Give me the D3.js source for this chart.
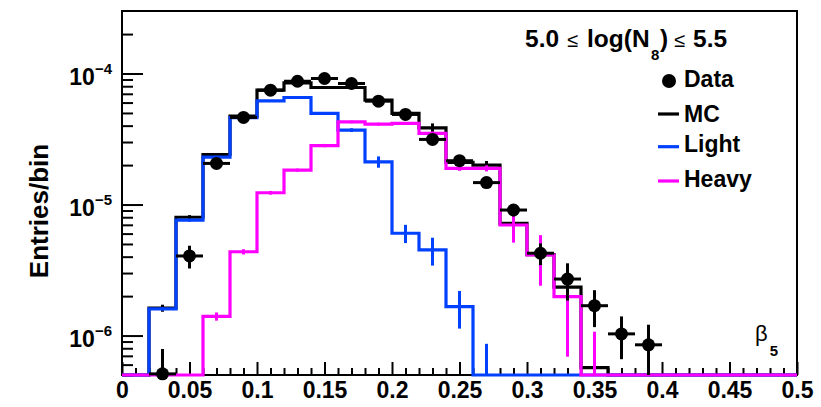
<!DOCTYPE html>
<html>
<head>
<meta charset="utf-8">
<script src="https://cdn.jsdelivr.net/npm/d3@7"></script>
<style>
  html, body { margin: 0; padding: 0; background: #fff; }
  svg { display: block; }
  text { font-family: "Liberation Sans", Arial, Helvetica, sans-serif; }
</style>
</head>
<body>
<div id="chart"></div>
<script>
// ---------------- data ----------------
const binEdgesLow = [0.00,0.02,0.04,0.06,0.08,0.10,0.12,0.14,0.16,0.18,0.20,0.22,0.24,0.26,0.28,0.30,0.32,0.34,0.36,0.38,0.40,0.42,0.44,0.46,0.48];
const binCenters  = [0.01,0.03,0.05,0.07,0.09,0.11,0.13,0.15,0.17,0.19,0.21,0.23,0.25,0.27,0.29,0.31,0.33,0.35,0.37,0.39,0.41,0.43,0.45,0.47,0.49];

const mcValues    = [0, 1.62e-6, 8.0e-6, 2.41e-5, 4.73e-5, 7.46e-5, 8.48e-5, 7.82e-5, 7.82e-5, 6.26e-5, 4.96e-5, 3.85e-5, 2.1e-5, 2.0e-5, 7.18e-6, 4.15e-6, 2.34e-6, 5.7e-7, 0, 0, 0, 0, 0, 0, 0];
const mcErrors    = [0, 0.1e-6, 0.3e-6, 0.6e-6, 0.9e-6, 1.2e-6, 1.3e-6, 1.3e-6, 1.4e-6, 1.6e-6, 2.2e-6, 3.1e-6, 1.5e-6, 1.5e-6, 1.2e-6, 1.2e-6, 1.2e-6, 0.3e-6, 0, 0, 0, 0, 0, 0, 0];

const lightValues = [0, 1.60e-6, 7.6e-6, 2.3e-5, 4.6e-5, 6.18e-5, 6.56e-5, 4.96e-5, 3.70e-5, 2.12e-5, 6.04e-6, 4.5e-6, 1.66e-6, 3e-7, 0, 0, 0, 0, 0, 0, 0, 0, 0, 0, 0];
const lightErrors = [0, 0.05e-6, 0.2e-6, 0.4e-6, 0.6e-6, 0.8e-6, 0.8e-6, 0.8e-6, 1.2e-6, 2.1e-6, 0.96e-6, 1.08e-6, 0.53e-6, 5.65e-7, 0, 0, 0, 0, 0, 0, 0, 0, 0, 0, 0];

const heavyValues = [0, 0, 0, 1.40e-6, 4.36e-6, 1.23e-5, 1.83e-5, 2.82e-5, 4.27e-5, 4.11e-5, 4.16e-5, 3.49e-5, 1.89e-5, 1.89e-5, 6.98e-6, 4.12e-6, 1.98e-6, 4e-7, 0, 0, 0, 0, 0, 0, 0];
const heavyErrors = [0, 0, 0, 0.1e-6, 0.2e-6, 0.4e-6, 0.5e-6, 0.8e-6, 1.0e-6, 1.0e-6, 1.0e-6, 1.1e-6, 0.8e-6, 1.0e-6, 1.86e-6, 1.72e-6, 1.29e-6, 6.7e-7, 0, 0, 0, 0, 0, 0, 0];

const dataX       = [0.03,0.05,0.07,0.09,0.11,0.13,0.15,0.17,0.19,0.21,0.23,0.25,0.27,0.29,0.31,0.33,0.35,0.37,0.39];
const dataValues  = [5.1e-7, 4.05e-6, 2.06e-5, 4.62e-5, 7.46e-5, 8.73e-5, 9.16e-5, 8.39e-5, 6.15e-5, 4.87e-5, 3.14e-5, 2.16e-5, 1.47e-5, 9.08e-6, 4.25e-6, 2.70e-6, 1.69e-6, 1.03e-6, 8.5e-7];
const dataErrors  = [2.8e-7, 0.8e-6, 1.5e-6, 2.0e-6, 2.5e-6, 2.7e-6, 2.8e-6, 2.7e-6, 2.3e-6, 2.1e-6, 1.7e-6, 1.4e-6, 1.2e-6, 0.95e-6, 0.8e-6, 0.85e-6, 0.53e-6, 0.37e-6, 0.36e-6];

const xTickValues = [0, 0.05, 0.1, 0.15, 0.2, 0.25, 0.3, 0.35, 0.4, 0.45, 0.5];
const xTickLabels = ["0", "0.05", "0.1", "0.15", "0.2", "0.25", "0.3", "0.35", "0.4", "0.45", "0.5"];
const yTickValues = [1e-6, 1e-5, 1e-4];
const yTickExponents = ["\u22126", "\u22125", "\u22124"];

const seriesNames  = ["Data", "MC", "Light", "Heavy"];
const seriesColors = { MC: "#000000", Light: "#0040ff", Heavy: "#ff00ff", Data: "#000000" };

// ---------------- layout ----------------
const W = 821, H = 407;
const mLeft = 122, mRight = 797, mTop = 11, mBottom = 375;
const binWidth = 0.02;
const yMin = 5e-7, yMax = 3e-4;

const svg = d3.select("#chart").append("svg").attr("width", W).attr("height", H);

const x = d3.scaleLinear().domain([0, 0.5]).range([mLeft, mRight]);
const y = d3.scaleLog().domain([yMin, yMax]).range([mBottom, mTop]);
const yc = v => y(Math.min(Math.max(v, yMin), yMax));

// ---------------- axes ----------------
const xMinor = d3.range(0, 0.5001, 0.01).filter(v => xTickValues.every(t => Math.abs(t - v) > 1e-6));
svg.append("g").attr("transform", `translate(0,${mBottom})`)
  .call(d3.axisBottom(x).tickValues(xMinor).tickSize(-7).tickFormat(""))
  .call(g => g.select(".domain").remove())
  .call(g => g.selectAll("line").attr("stroke-width", 2));

svg.append("g").attr("transform", `translate(0,${mBottom})`)
  .call(d3.axisBottom(x).tickValues(xTickValues).tickSize(-13).tickPadding(7)
        .tickFormat((d, i) => xTickLabels[i]))
  .call(g => g.select(".domain").remove())
  .call(g => g.selectAll("line").attr("stroke-width", 2))
  .call(g => g.selectAll("text").attr("font-size", 23).attr("font-weight", "bold")
        .attr("fill", "#000").attr("font-family", "Liberation Sans, Arial, sans-serif"));

const yMinor = [];
[1e-7, 1e-6, 1e-5, 1e-4].forEach(dec => { for (let k = 2; k <= 9; k++) { const v = k * dec; if (v >= yMin && v <= yMax) yMinor.push(v); } });
svg.append("g").attr("transform", `translate(${mLeft},0)`)
  .call(d3.axisLeft(y).tickValues(yMinor).tickSize(-11).tickFormat(""))
  .call(g => g.select(".domain").remove())
  .call(g => g.selectAll("line").attr("stroke-width", 2));
svg.append("g").attr("transform", `translate(${mLeft},0)`)
  .call(d3.axisLeft(y).tickValues(yTickValues).tickSize(-21).tickFormat(""))
  .call(g => g.select(".domain").remove())
  .call(g => g.selectAll("line").attr("stroke-width", 2));

const yLab = svg.append("g").selectAll("text").data(yTickValues).join("text")
  .attr("x", 112).attr("y", d => y(d) + 11.5)
  .attr("text-anchor", "end").attr("font-weight", "bold").attr("font-size", 23);
yLab.append("tspan").text("10");
yLab.append("tspan").attr("font-size", 15).attr("dy", -11).text((d, i) => yTickExponents[i]);

// frame
svg.append("rect").attr("x", mLeft).attr("y", mTop).attr("width", mRight - mLeft).attr("height", mBottom - mTop)
  .attr("fill", "none").attr("stroke", "#000").attr("stroke-width", 2);

// axis titles
svg.append("text").attr("transform", `translate(48,211) rotate(-90)`)
  .attr("text-anchor", "middle").attr("font-weight", "bold").attr("font-size", 26)
  .text("Entries/bin");

const bt = svg.append("text").attr("x", 755).attr("y", 341).attr("font-size", 22);
bt.append("tspan").text("\u03B2");
bt.append("tspan").attr("dy", 15).attr("dx", 2).attr("font-size", 15).attr("font-weight", "bold").text("5");

// ---------------- histograms ----------------
const plot = svg.append("g");
function drawHist(values, errors, color) {
  const pts = binEdgesLow.map((e, i) => [e, values[i]]);
  pts.push([0.5, values[values.length - 1]]);
  const line = d3.line().x(d => x(d[0])).y(d => yc(d[1])).curve(d3.curveStepAfter);
  plot.append("path").datum(pts).attr("d", line)
    .attr("fill", "none").attr("stroke", color).attr("stroke-width", 3.2).attr("stroke-linejoin", "miter");
  const eb = binCenters.map((c, i) => ({ c, v: values[i], e: errors[i] })).filter(d => d.e > 0);
  plot.append("g").selectAll("line").data(eb).join("line")
    .attr("x1", d => x(d.c)).attr("x2", d => x(d.c))
    .attr("y1", d => yc(d.v + d.e)).attr("y2", d => yc(d.v - d.e))
    .attr("stroke", color).attr("stroke-width", 3);
}
drawHist(mcValues, mcErrors, seriesColors.MC);
drawHist(lightValues, lightErrors, seriesColors.Light);
drawHist(heavyValues, heavyErrors, seriesColors.Heavy);

// ---------------- data points ----------------
const dp = dataX.map((c, i) => ({ c, v: dataValues[i], e: dataErrors[i] }));
const dg = plot.append("g");
dg.selectAll("line.v").data(dp).join("line").attr("class", "v")
  .attr("x1", d => x(d.c)).attr("x2", d => x(d.c))
  .attr("y1", d => yc(d.v + d.e)).attr("y2", d => yc(d.v - d.e))
  .attr("stroke", "#000").attr("stroke-width", 3);
dg.selectAll("line.h").data(dp).join("line").attr("class", "h")
  .attr("x1", d => x(d.c - binWidth / 2)).attr("x2", d => x(d.c + binWidth / 2))
  .attr("y1", d => yc(d.v)).attr("y2", d => yc(d.v))
  .attr("stroke", "#000").attr("stroke-width", 3);
dg.selectAll("circle").data(dp).join("circle")
  .attr("cx", d => x(d.c)).attr("cy", d => yc(d.v)).attr("r", 6.5).attr("fill", "#000");

// ---------------- legend ----------------
const lt = svg.append("text").attr("y", 46.5).attr("font-size", 24.5).attr("font-weight", "bold");
lt.append("tspan").attr("x", 525).text("5.0");
lt.append("tspan").attr("x", 567).attr("font-weight", "normal").attr("font-size", 20).text("\u2264");
lt.append("tspan").attr("x", 587).text("log(N");
lt.append("tspan").attr("x", 651).attr("font-size", 15).attr("dy", 13).text("8");
lt.append("tspan").attr("x", 660).attr("dy", -13).text(")");
lt.append("tspan").attr("x", 674).attr("font-weight", "normal").attr("font-size", 20).text("\u2264");
lt.append("tspan").attr("x", 693).text("5.5");

const legText = { Data: 87.3, MC: 121.7, Light: 152, Heavy: 186.7 };
const legMark = { Data: 81, MC: 114, Light: 146.7, Heavy: 181 };
const leg = svg.append("g");
seriesNames.forEach(name => {
  if (name === "Data") {
    leg.append("circle").attr("cx", 669).attr("cy", legMark[name]).attr("r", 7).attr("fill", "#000");
  } else {
    leg.append("line").attr("x1", 658).attr("x2", 679).attr("y1", legMark[name]).attr("y2", legMark[name])
      .attr("stroke", seriesColors[name]).attr("stroke-width", 3.2);
  }
  leg.append("text").attr("x", 684).attr("y", legText[name]).attr("font-size", 23).attr("font-weight", "bold").text(name);
});
</script>
</body>
</html>
